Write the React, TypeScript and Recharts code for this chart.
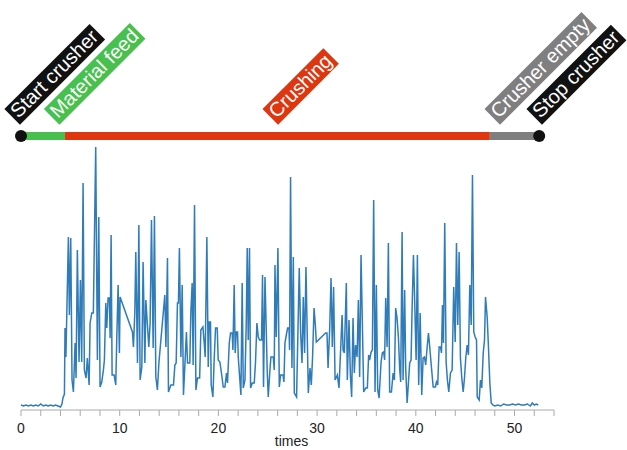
import { useLayoutEffect, useRef, useState } from "react";
import { LineChart, Line, XAxis, YAxis, ReferenceLine, ReferenceDot } from "recharts";

// sensor trace (time in minutes, arbitrary load units)
const times = [
  0, 0.25, 0.5, 0.75, 1.0, 1.25, 1.5, 1.75, 2.0, 2.25, 2.5, 2.75, 3.0, 3.25, 3.5, 3.75, 4.0, 4.15,
  4.25, 4.4, 4.46, 4.55, 4.8, 4.9, 5.04, 5.17, 5.31, 5.48, 5.58, 5.71, 5.88, 6.02, 6.15, 6.29, 6.42,
  6.59, 6.72, 6.9, 7.0, 7.17, 7.33, 7.57, 7.74, 7.88, 8.01, 8.18, 8.35, 8.45, 8.59, 8.69, 8.82, 8.96,
  9.03, 9.13, 9.23, 9.43, 9.6, 9.7, 9.84, 9.97, 10.04, 11.29, 11.39, 11.53, 11.63, 11.8, 11.94, 12.07,
  12.24, 12.37, 12.55, 12.65, 12.81, 12.95, 13.08, 13.22, 13.39, 13.52, 13.66, 13.82, 13.97, 14.57,
  14.68, 14.84, 14.94, 15.18, 15.45, 15.59, 15.72, 15.85, 15.95, 16.05, 16.2, 16.33, 16.46, 16.76,
  16.87, 17.1, 17.21, 17.34, 17.44, 17.58, 17.72, 17.88, 18.1, 18.22, 18.43, 18.56, 18.66, 18.83,
  18.97, 19.07, 19.2, 19.27, 19.44, 19.57, 19.71, 19.88, 19.98, 20.15, 20.31, 20.49, 20.66, 20.82,
  20.92, 21.1, 21.23, 21.4, 21.47, 21.6, 21.7, 21.81, 21.94, 22.01, 22.28, 22.41, 22.52, 22.69, 22.82,
  22.92, 23.02, 23.15, 23.26, 23.43, 23.63, 23.76, 23.9, 24.04, 24.17, 24.37, 24.47, 24.57, 24.72,
  24.95, 25.05, 25.22, 25.32, 25.56, 25.66, 25.73, 25.86, 26.03, 26.17, 26.3, 26.54, 26.64, 26.74,
  26.88, 27.01, 27.15, 27.21, 27.31, 27.45, 27.59, 27.69, 27.92, 28.06, 28.19, 28.33, 28.47, 28.6,
  28.73, 28.87, 29.11, 29.28, 29.41, 29.54, 29.69, 29.82, 29.92, 30.86, 31.0, 31.11, 31.27, 31.41,
  31.54, 31.67, 31.82, 32.05, 32.22, 32.53, 32.63, 32.76, 32.96, 33.06, 33.23, 33.37, 33.5, 33.64,
  33.77, 33.9, 34.05, 34.18, 34.31, 34.45, 34.72, 34.92, 35.09, 35.22, 35.32, 35.47, 35.6, 35.73,
  35.87, 36.0, 36.14, 36.28, 36.48, 36.61, 36.74, 36.84, 36.95, 37.09, 37.22, 37.35, 37.53, 37.7,
  37.83, 37.96, 38.1, 38.24, 38.37, 38.47, 38.61, 38.71, 38.87, 38.97, 39.12, 39.25, 39.38, 39.52,
  39.62, 39.76, 39.89, 40.03, 40.16, 40.29, 40.44, 40.6, 40.74, 40.87, 41.0, 41.15, 41.28, 41.41,
  41.58, 41.76, 41.99, 42.09, 42.22, 42.36, 42.5, 42.6, 42.7, 42.8, 42.93, 43.07, 43.2, 43.34, 43.51,
  43.68, 43.84, 43.99, 44.12, 44.25, 44.39, 44.52, 44.66, 44.8, 44.93, 45.06, 45.2, 45.33, 45.47,
  45.61, 45.74, 45.87, 46.01, 46.15, 46.22, 46.42, 46.55, 46.68, 46.83, 46.96, 47.06, 47.23, 47.36,
  47.5, 47.64, 47.8, 48.0, 48.3, 48.6, 48.9, 49.2, 49.5, 49.8, 50.1, 50.4, 50.7, 51.0, 51.3, 51.6,
  51.8, 52.0, 52.2, 52.4,
];

const load = [
  5, 4, 5, 4, 5, 4, 5, 4, 6, 4, 5, 4, 5, 4, 5, 4, 3, 6,
  12, 16, 82, 53, 173, 95, 172, 30, 18, 67, 32, 160, 48, 130, 48, 227, 40,
  32, 52, 25, 87, 97, 97, 263, 50, 193, 23, 28, 40, 50, 107, 82, 112, 112,
  72, 175, 35, 35, 25, 70, 125, 57, 113, 78, 63, 97, 158, 47, 185, 30,
  43, 148, 47, 110, 85, 63, 87, 190, 62, 194, 33, 20, 47, 115,
  63, 152, 18, 25, 25, 45, 47, 107, 107, 162, 53, 125, 15, 78,
  47, 47, 98, 127, 45, 205, 20, 32, 32, 80, 83, 67, 53, 173,
  43, 88, 88, 25, 13, 50, 82, 82, 50, 48, 37, 23, 23, 37,
  27, 67, 77, 77, 60, 125, 57, 78, 78, 53, 15, 127, 22, 30, 87,
  162, 70, 162, 22, 27, 27, 48, 87, 73, 70, 70, 135, 23, 133,
  37, 13, 40, 53, 53, 40, 145, 73, 162, 23, 35, 35, 28, 67,
  75, 82, 82, 60, 233, 42, 153, 17, 13, 80, 142, 77, 47, 113,
  57, 143, 17, 42, 25, 53, 102, 85, 68, 77, 77, 42, 80, 132,
  63, 123, 30, 35, 22, 95, 60, 57, 127, 30, 90, 35, 13, 92,
  37, 65, 53, 110, 33, 155, 18, 22, 22, 55, 50, 58, 60, 210,
  18, 125, 20, 12, 48, 57, 58, 50, 112, 63, 167, 18, 18, 37,
  30, 102, 92, 72, 40, 28, 178, 30, 120, 43, 7, 27, 47, 50,
  100, 155, 107, 50, 155, 25, 97, 15, 52, 53, 45, 63, 77, 63,
  43, 23, 23, 28, 25, 63, 63, 57, 105, 67, 187, 48, 30, 18, 37,
  40, 123, 68, 167, 85, 158, 52, 32, 18, 32, 52, 65, 55, 125,
  85, 235, 78, 73, 70, 13, 10, 30, 22, 57, 70, 113, 93, 63,
  27, 7, 5, 4, 5, 4, 6, 5, 5, 6, 5, 6, 5, 5, 6, 4,
  7, 5, 6, 5,
];

// process phases on the timeline
const phaseStart = [0, 4.46, 47.5];
const phaseEnd = [4.46, 47.5, 52.5];
const phaseColors = ["#47c04e", "#e0360f", "#7f7f7f"];

const events = ["Start crusher", "Material feed", "Crushing", "Crusher empty", "Stop crusher"];
const eventAt = [-0.25, 3.75, 25.9, 48.39, 52.64];
const eventColors = ["#111111", "#47c04e", "#e0360f", "#7f7f7f", "#111111"];

const xTicks = [0, 2, 4, 6, 8, 10, 12, 14, 16, 18, 20, 22, 24, 26, 28, 30, 32, 34, 36, 38, 40, 42, 44, 46, 48, 50, 52, 54];

const TIMELINE_Y = 274;
const TAG_Y = 291;
const FONT = "'Liberation Sans', Arial, Helvetica, sans-serif";

function Tag({ x, y, text, fill }: { x: number; y: number; text: string; fill: string }) {
  const ref = useRef<SVGTextElement>(null);
  const [w, setW] = useState(0);
  useLayoutEffect(() => {
    if (ref.current) setW(ref.current.getComputedTextLength());
  }, [text]);
  return (
    <g transform={`translate(${x},${y}) rotate(-45)`}>
      <rect x={-3} y={-17} width={w + 6} height={22} fill={fill} />
      <text ref={ref} x={0} y={0} fill="#fff" fontSize={20} fontFamily={FONT}>
        {text}
      </text>
    </g>
  );
}

const XTick = ({ x, y, payload }: any) => {
  if (payload.value % 10 !== 0) return <g />;
  return (
    <text x={x} y={y + 15} textAnchor="middle" fontSize={14} fill="#222" fontFamily={FONT}>
      {payload.value}
    </text>
  );
};

export default function App() {
  const data = times.map((t, i) => ({ t, v: load[i] }));

  return (
    <div style={{ position: "absolute", left: 0, top: 0, background: "#fff" }}>
      <LineChart width={627} height={450} data={data} margin={{ top: 10, right: 73, left: 21, bottom: 0 }}>
        <YAxis hide type="number" domain={[0, 400]} />
        <XAxis
          dataKey="t"
          type="number"
          domain={[0, 54]}
          ticks={xTicks}
          interval={0}
          height={40}
          tick={XTick}
          tickSize={6}
          tickLine={{ stroke: "#aaa" }}
          axisLine={{ stroke: "#aaa" }}
          label={{
            content: ({ viewBox }: any) => (
              <text
                x={viewBox.x + viewBox.width / 2 + 4}
                y={446}
                textAnchor="middle"
                fontSize={14}
                fill="#222"
                fontFamily={FONT}
              >
                times
              </text>
            ),
          }}
        />
        <Line type="linear" dataKey="v" stroke="#2f7cb8" strokeWidth={1.5} dot={false} isAnimationActive={false} />
        {phaseStart.map((s, i) => (
          <ReferenceLine
            key={`p${i}`}
            segment={[
              { x: s, y: TIMELINE_Y },
              { x: phaseEnd[i], y: TIMELINE_Y },
            ]}
            stroke={phaseColors[i]}
            strokeWidth={8}
          />
        ))}
        {events.map((name, i) => (
          <ReferenceDot
            key={`e${i}`}
            x={eventAt[i]}
            y={TAG_Y}
            ifOverflow="visible"
            shape={(p: any) => <Tag x={p.cx} y={p.cy} text={name} fill={eventColors[i]} />}
          />
        ))}
        <ReferenceDot x={0} y={TIMELINE_Y} r={6} fill="#111" stroke="none" />
        <ReferenceDot x={52.5} y={TIMELINE_Y} r={6} fill="#111" stroke="none" />
      </LineChart>
    </div>
  );
}
